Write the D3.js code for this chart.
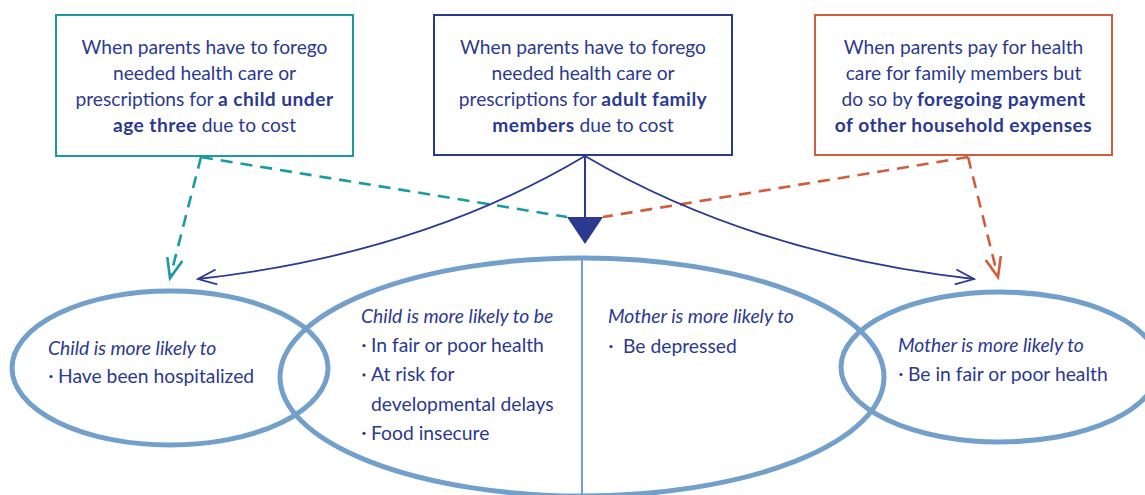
<!DOCTYPE html>
<html lang="en">
<head>
<meta charset="UTF-8">
<title>Foregone health care and family outcomes</title>
<script src="https://d3js.org/d3.v7.min.js"></script>
<style>
  body { margin: 0; background: #fff; }
  svg text { font-family: Lato, "Open Sans", sans-serif; fill: #2b3990; }
  .box-text { font-size: 19.2px; }
  .oval-text { font-size: 19.3px; }
</style>
</head>
<body>
<svg width="1145" height="495"></svg>
<script>
// ---- content ----
// each line is a list of [text, bold] runs
const boxTeal = [
  [["When parents have to forego", false]],
  [["needed health care or", false]],
  [["prescriptions for ", false], ["a child under", true]],
  [["age three", true], [" due to cost", false]]
];
const boxNavy = [
  [["When parents have to forego", false]],
  [["needed health care or", false]],
  [["prescriptions for ", false], ["adult family", true]],
  [["members", true], [" due to cost", false]]
];
const boxOrange = [
  [["When parents pay for health", false]],
  [["care for family members but", false]],
  [["do so by ", false], ["foregoing payment", true]],
  [["of other household expenses", true]]
];
// heading, then items (items with bullet=false continue the previous one)
const childLeftHead = "Child is more likely to";
const childLeftItems = [["Have been hospitalized", true]];
const childMidHead = "Child is more likely to be";
const childMidItems = [["In fair or poor health", true], ["At risk for", true], ["developmental delays", false], ["Food insecure", true]];
const motherMidHead = "Mother is more likely to";
const motherMidItems = [["Be depressed", true]];
const motherRightHead = "Mother is more likely to";
const motherRightItems = [["Be in fair or poor health", true]];

// ---- style ----
const teal = "#1a9ba1", navy = "#2b3990", orange = "#d35c3c", oval = "#739fcb";

const svg = d3.select("svg");

// ---- ovals ----
const ovals = [
  {cx: 170, cy: 368, rx: 158, ry: 77},
  {cx: 582, cy: 377, rx: 302, ry: 119},
  {cx: 1000, cy: 367, rx: 159, ry: 75}
];
svg.append("g").selectAll("ellipse").data(ovals).join("ellipse")
  .attr("cx", d => d.cx).attr("cy", d => d.cy)
  .attr("rx", d => d.rx).attr("ry", d => d.ry)
  .attr("fill", "none").attr("stroke", oval).attr("stroke-width", 5);
svg.append("line").attr("x1", 582).attr("x2", 582).attr("y1", 258).attr("y2", 495)
  .attr("stroke", oval).attr("stroke-width", 2);

// ---- boxes ----
const boxes = [
  {x: 56, y: 15, w: 297, h: 141, color: teal, lines: boxTeal},
  {x: 434, y: 15, w: 298, h: 140, color: navy, lines: boxNavy},
  {x: 815, y: 15, w: 297, h: 140, color: orange, lines: boxOrange}
];
boxes.forEach(b => {
  svg.append("rect").attr("x", b.x).attr("y", b.y).attr("width", b.w).attr("height", b.h)
    .attr("fill", "#fff").attr("stroke", b.color).attr("stroke-width", 2);
  const t = svg.append("text").attr("class", "box-text").attr("text-anchor", "middle");
  b.lines.forEach((runs, i) => {
    runs.forEach((r, j) => {
      const ts = t.append("tspan").text(r[0])
        .attr("font-weight", r[1] ? 700 : 400)
        .attr("letter-spacing", r[1] ? 0.45 : 0);
      if (j === 0) ts.attr("x", b.x + b.w / 2).attr("y", 54 + i * 26);
    });
  });
});

// ---- arrows ----
function vHead(g, tip, dir, color, len, width) {
  const a = Math.atan2(dir[1], dir[0]);
  const spread = 0.38;
  const p1 = [tip[0] - len * Math.cos(a - spread), tip[1] - len * Math.sin(a - spread)];
  const p2 = [tip[0] - len * Math.cos(a + spread), tip[1] - len * Math.sin(a + spread)];
  g.append("path")
    .attr("d", d3.line()([p1, tip, p2]))
    .attr("fill", "none").attr("stroke", color).attr("stroke-width", width)
    .attr("stroke-linejoin", "miter");
}

const arrows = svg.append("g");

// dashed lines
const dashed = [
  {from: [201, 157], to: [567, 217], color: teal, head: false},
  {from: [201, 157], to: [170, 278], color: teal, head: true},
  {from: [968, 157], to: [603, 217], color: orange, head: false},
  {from: [968, 157], to: [998, 277], color: orange, head: true}
];
dashed.forEach(d => {
  arrows.append("line")
    .attr("x1", d.from[0]).attr("y1", d.from[1]).attr("x2", d.to[0]).attr("y2", d.to[1])
    .attr("stroke", d.color).attr("stroke-width", 2.6).attr("stroke-dasharray", "12,8");
  if (d.head) vHead(arrows, d.to, [d.to[0] - d.from[0], d.to[1] - d.from[1]], d.color, 21, 2.6);
});

// navy curves
const curves = [
  {from: [585, 156], c: [421, 254], to: [198, 279]},
  {from: [585, 156], c: [752, 254], to: [974, 279]}
];
curves.forEach(d => {
  const p = d3.path();
  p.moveTo(d.from[0], d.from[1]);
  p.quadraticCurveTo(d.c[0], d.c[1], d.to[0], d.to[1]);
  arrows.append("path").attr("d", p.toString())
    .attr("fill", "none").attr("stroke", navy).attr("stroke-width", 1.8);
  vHead(arrows, d.to, [d.to[0] - d.c[0], d.to[1] - d.c[1]], navy, 20, 1.8);
});
arrows.append("line").attr("x1", 585).attr("x2", 585).attr("y1", 156).attr("y2", 218)
  .attr("stroke", navy).attr("stroke-width", 2);
arrows.append("path").attr("d", d3.line()([[567, 217], [603, 217], [585, 244]]) + "Z")
  .attr("fill", navy);

// ---- oval texts ----
const ovalTexts = [
  {x: 48, y: 355, head: childLeftHead, items: childLeftItems, gap: 28, indent: 10},
  {x: 361, y: 323, head: childMidHead, items: childMidItems, gap: 29.2, indent: 10},
  {x: 608, y: 323, head: motherMidHead, items: motherMidItems, gap: 30, indent: 15},
  {x: 898, y: 352, head: motherRightHead, items: motherRightItems, gap: 29, indent: 10}
];
ovalTexts.forEach(o => {
  const g = svg.append("g").attr("class", "oval-text");
  g.append("text").attr("x", o.x).attr("y", o.y).attr("font-style", "italic").text(o.head);
  o.items.forEach((it, i) => {
    const y = o.y + o.gap * (i + 1);
    if (it[1]) g.append("circle").attr("cx", o.x + 3).attr("cy", y - 6.5).attr("r", 1.6).attr("fill", navy);
    g.append("text").attr("x", o.x + o.indent).attr("y", y).text(it[0]);
  });
});
</script>
</body>
</html>
